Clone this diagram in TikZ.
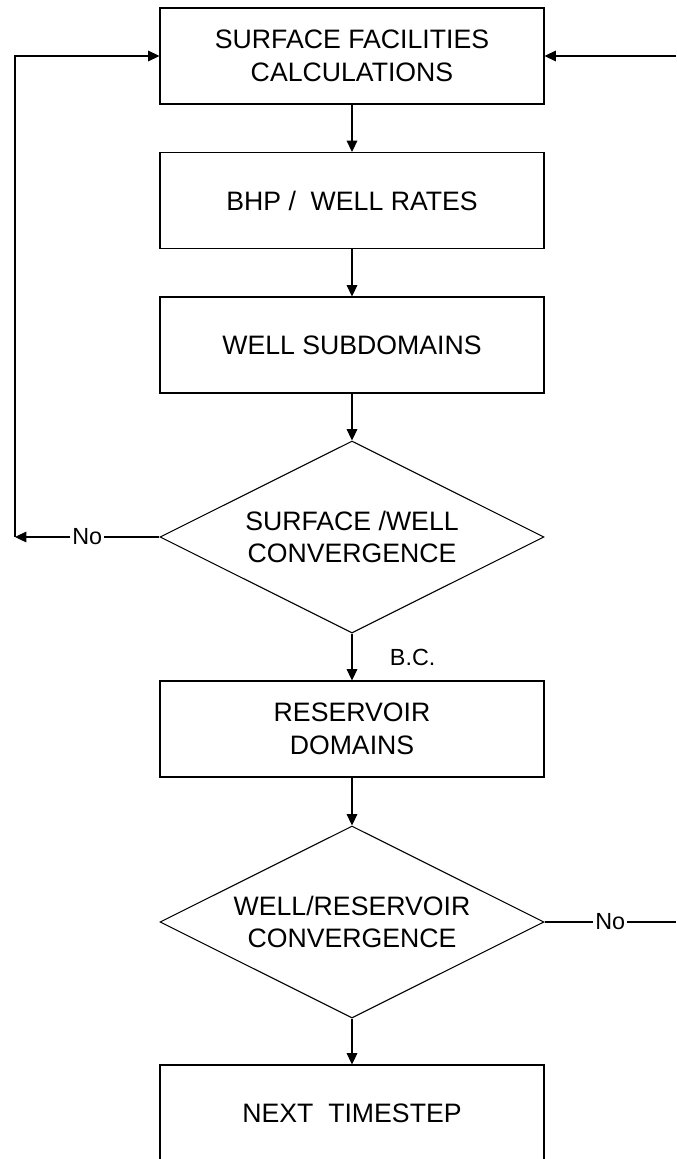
\documentclass[tikz,border=0pt]{standalone}
\usepackage{fontspec}
\setmainfont{Liberation Sans}
\usetikzlibrary{shapes.geometric,arrows.meta}
\begin{document}
\begin{tikzpicture}[x=0.75pt,y=-0.75pt,
  line width=0.8pt,
  every node/.style={font=\fontsize{20}{24.5}\selectfont},
  procbox/.style={draw,rectangle,minimum width=288pt,minimum height=72pt,align=center,inner sep=0pt},
  decision/.style={draw,diamond,shape aspect=2,minimum width=288pt,minimum height=144pt,align=center,inner sep=0pt},
  flow/.style={-{Triangle[length=8.5pt,width=8pt]}},
  tag/.style={font=\fontsize{17.5}{21}\selectfont,fill=white,inner sep=1.5pt}]
\useasboundingbox (0,0) rectangle (676,1159);

% main column
\node[procbox] (sfc) at (352,56) {SURFACE FACILITIES\\CALCULATIONS};
\node[procbox] (bhp) at (352,200.5) {BHP /\ \ WELL RATES};
\node[procbox] (wsd) at (352,345) {WELL SUBDOMAINS};
\node[decision] (swc) at (352,537) {SURFACE /WELL\\CONVERGENCE};
\node[procbox] (res) at (352,729) {RESERVOIR\\DOMAINS};
\node[decision] (wrc) at (352,922) {WELL/RESERVOIR\\CONVERGENCE};
\node[procbox] (nts) at (352,1113) {NEXT\ \ TIMESTEP};

% return paths
\coordinate (lcorner) at (15,537);
\coordinate (rtop) at (676,56);
\coordinate (rend) at (676,922);

\draw[flow] (sfc) -- (bhp);
\draw[flow] (bhp) -- (wsd);
\draw[flow] (wsd) -- (swc);
\draw[flow] (swc) -- (res);
\draw[flow] (res) -- (wrc);
\draw[flow] (wrc) -- (nts);

\node[font=\fontsize{17.5}{21}\selectfont,anchor=west] (bc) at (385,657) {B.C.};

\draw[flow] (swc.west) -- node[tag] (no1) {No} (lcorner);
\draw[flow] (lcorner) |- (sfc.west);

\draw (wrc.east) -- node[tag] (no2) {No} (rend);
\draw[flow] (rtop) -- (sfc.east);
\end{tikzpicture}
\end{document}
